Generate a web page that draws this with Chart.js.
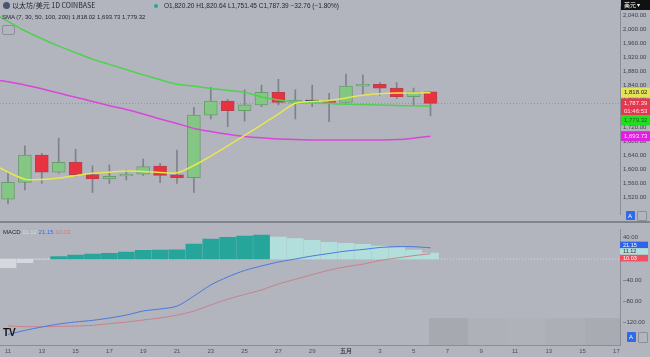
<!DOCTYPE html>
<html><head><meta charset="utf-8">
<script src="https://cdn.jsdelivr.net/npm/chart.js@4.4.1/dist/chart.umd.min.js"></script>
<style>
html,body{margin:0;padding:0;background:#b2b5be;width:650px;height:357px;overflow:hidden;}
#wrap{position:relative;width:650px;height:357px;font-family:"Liberation Sans","Noto Sans CJK SC",sans-serif;}
canvas{position:absolute;left:0;}
#c1{top:0;}
#c2{top:223px;}
#sep{position:absolute;left:0;top:221px;width:650px;height:2px;background:#80838b;}
.t{position:absolute;white-space:nowrap;color:#1e222d;line-height:1;}
.box{position:absolute;}
</style></head><body><div id="wrap">
<canvas id="c1" width="650" height="221"></canvas>
<div id="sep"></div>
<canvas id="c2" width="650" height="134"></canvas>

<div class="box" style="left:3px;top:2px;width:7px;height:7px;border-radius:50%;background:#4b5372;"></div>
<div class="t" style="left:12px;top:2px;font-size:7px;font-family:'Noto Sans CJK SC','Liberation Sans',sans-serif;">以太坊/美元 1D COINBASE</div>
<div class="box" style="left:154px;top:4px;width:4px;height:4px;border-radius:50%;background:#26a69a;"></div>
<div class="t" style="left:164px;top:3px;font-size:6.5px;">O1,820.20 H1,820.64 L1,751.45 C1,787.39 −32.76 (−1.80%)</div>
<div class="t" style="left:2px;top:14px;font-size:6px;">SMA (7, 30, 50, 100, 200) 1,818.02 1,693.73 1,779.32</div>
<div class="box" style="left:2px;top:25px;width:11px;height:8px;border:1px solid #8c8f97;border-radius:2px;"></div>
<div class="t" style="left:3px;top:229px;font-size:6px;">MACD <span style="color:#d3dbdf">11.12</span> <span style="color:#3a6ee0">21.15</span> <span style="color:#e0707c">10.03</span></div>

<div class="box" style="left:621px;top:0;width:29px;height:10px;background:#111;"></div>
<div class="t" style="left:624px;top:2px;font-size:6px;color:#fff;font-family:'Noto Sans CJK SC',sans-serif;">美元 ▾</div>
<div class="box" style="left:626px;top:211px;width:9px;height:9px;background:#2f6ae8;border-radius:1px;"></div>
<div class="t" style="left:628px;top:213px;font-size:6px;color:#fff;">A</div>
<div class="box" style="left:637px;top:211px;width:8px;height:8px;border:1px solid #8c8f97;border-radius:1px;"></div>
<div class="box" style="left:627px;top:332px;width:9px;height:10px;background:#2f6ae8;border-radius:1px;"></div>
<div class="t" style="left:629px;top:334px;font-size:6px;color:#fff;">A</div>
<div class="box" style="left:638px;top:332px;width:8px;height:9px;border:1px solid #8c8f97;border-radius:1px;"></div>
<div class="t" style="left:3px;top:328px;font-size:10px;font-weight:bold;color:#111;">TV</div>

<script>
// ---- data ----
const dates = ['4/11','4/12','4/13','4/14','4/15','4/16','4/17','4/18','4/19','4/20','4/21','4/22','4/23','4/24','4/25','4/26','4/27','4/28','4/29','4/30','5/1','5/2','5/3','5/4','5/5','5/6'];
const opens  = [1514,1562,1640,1591,1619,1584,1572,1580,1585,1608,1583,1575,1754,1794,1767,1783,1819,1790,1797,1795,1790,1837,1842,1831,1807,1820.20];
const highs  = [1589,1666,1645,1688,1657,1609,1612,1597,1628,1616,1654,1776,1833,1799,1826,1840,1856,1826,1840,1816,1871,1869,1847,1847,1831,1820.64];
const lows   = [1500,1540,1559,1588,1578,1533,1559,1569,1582,1561,1559,1533,1743,1721,1737,1778,1783,1743,1778,1735,1788,1813,1811,1802,1781,1751.45];
const closes = [1562,1640,1591,1619,1584,1572,1579,1585,1607,1582,1575,1754,1794,1767,1783,1819,1790,1797,1795,1790,1837,1842,1831,1807,1820.20,1787.39];

// SMA lines start one day earlier (4/10)
const smaDates = ['4/10'].concat(dates);
const smaYellow  = [1617,1591,1571,1570,1574,1581,1588,1591,1594,1593,1590,1589,1610,1637,1666,1696,1726,1757,1788,1793,1796,1803,1811,1815,1817,1817,1818.02];
const smaGreen   = [2049,2022,1995,1972,1951,1932,1914,1899,1884,1869,1855,1842,1837,1830,1825,1819,1806,1797,1791,1789,1787,1785,1784,1783,1781.5,1780.5,1779.32];
const smaMagenta = [1857,1849,1840,1829,1817,1805,1793,1781,1770,1757,1743,1730,1716,1707,1699,1693,1689,1686,1684,1683,1683,1683,1683,1683,1684,1688,1693.73];

const macdHist   = [-16.4,-7,-0.5,4.4,7.6,9.5,10.7,13.2,16.5,16.8,17.2,28.4,37.8,41,43.5,45.4,41.6,38.4,35.3,31.5,29.6,27.7,24.6,21.4,17,11.12];
const macdLine   = [-142.7,-135,-128.5,-123,-119,-116,-111.5,-106,-98.3,-94.5,-89,-70,-49,-34,-21.7,-13.2,-5.7,0,5.7,10.4,15,18,21.7,23.3,23.3,21.15];
const signalLine = [-126.3,-128,-128,-127.4,-126.6,-125.5,-122.2,-119.2,-115.3,-111.5,-106.2,-98.4,-86.8,-76,-67,-58.6,-47.3,-38.4,-29.6,-21.1,-14.6,-9.7,-2.9,1.9,6.3,10.03];

const xTickDays   = [0,2,4,6,8,10,12,14,16,18,20,22,24,26,28,30,32,34,36];
const xTickLabels = ['11','13','15','17','19','21','23','25','27','29','五月','3','5','7','9','11','13','15','17'];
const priceTicks  = [2040,2000,1960,1920,1880,1840,1800,1760,1720,1680,1640,1600,1560,1520];
const macdTicks   = [40,0,-40,-80,-120];

// ---- helpers ----
const FAM = '"Liberation Sans","Noto Sans CJK SC",sans-serif';
const fmt = v => {
  const s = Math.abs(v).toLocaleString('en-US',{minimumFractionDigits:2,maximumFractionDigits:2});
  return (v < 0 ? '\u2212' : '') + s;
};
const X_MIN = -0.473, X_MAX = 36.213;
const last = closes.length - 1;
const up = i => closes[i] >= opens[i];
const pts = (arr, start) => arr.map((v,i)=>({x:i+start, y:v}));

const GREEN_FILL = '#84c784', GREEN_EDGE = '#6a9d6e';
const RED_FILL = '#e8323f', RED_EDGE = '#b9404b';

const tags1 = {
  id:'tags1',
  afterDraw(chart){
    const ctx = chart.ctx, ys = chart.scales.y, left = chart.chartArea.right + 1;
    const tags = [
      {v: smaYellow[smaYellow.length-1], bg:'#e3e35a', fg:'#222', lines:[fmt(smaYellow[smaYellow.length-1])]},
      {v: closes[last], bg:'#e5384e', fg:'#f6e4e6', lines:[fmt(closes[last]), '01:46:53']},
      {v: smaGreen[smaGreen.length-1], bg:'#1fe01f', fg:'#2d5a2d', lines:[fmt(smaGreen[smaGreen.length-1])]},
      {v: smaMagenta[smaMagenta.length-1], bg:'#e01fe0', fg:'#f8e2f8', lines:[fmt(smaMagenta[smaMagenta.length-1])]}
    ];
    let prev = -1e9;
    ctx.save();
    ctx.font = '6px ' + FAM; ctx.textBaseline = 'middle'; ctx.textAlign = 'left';
    for (const t of tags) {
      const h = t.lines.length === 1 ? 10 : 17;
      let top = ys.getPixelForValue(t.v) - 5;
      if (top < prev) top = prev;
      ctx.fillStyle = t.bg; ctx.fillRect(left, top, 650 - left, h);
      ctx.fillStyle = t.fg;
      t.lines.forEach((s,k)=>ctx.fillText(s, left + 3, top + 5 + k*7.5));
      prev = top + h;
    }
    ctx.restore();
  }
};

const tags2 = {
  id:'tags2',
  afterDraw(chart){
    const ctx = chart.ctx, ys = chart.scales.y, left = chart.chartArea.right;
    const tags = [
      {v: macdLine[last], bg:'#2f64e8', fg:'#fff'},
      {v: macdHist[last], bg:'#b2dfdb', fg:'#333'},
      {v: signalLine[last], bg:'#ef4f5f', fg:'#fff'}
    ];
    const h = 6.6;
    const mean = tags.reduce((a,t)=>a+ys.getPixelForValue(t.v),0)/tags.length;
    let top = mean - h*tags.length/2;
    ctx.save();
    ctx.font = '5.5px ' + FAM; ctx.textBaseline = 'middle'; ctx.textAlign = 'left';
    for (const t of tags) {
      ctx.fillStyle = t.bg; ctx.fillRect(left, top, 28, h);
      ctx.fillStyle = t.fg; ctx.fillText(fmt(t.v), left + 3, top + h/2 + 0.3);
      top += h;
    }
    const a = chart.chartArea;
    const strips = [[429,468,'#a7a9b1'],[468,507,'#afb1b9'],[507,545,'#b0b2ba'],[545,585,'#adafb7'],[585,620,'#a9abb3']];
    for (const [x0,x1,c] of strips){ ctx.fillStyle = c; ctx.fillRect(x0, a.bottom - 27, x1-x0, 27); }
    ctx.restore();
  }
};

Chart.defaults.font.family = FAM;
Chart.defaults.animation = false;

const ch1 = new Chart(document.getElementById('c1'), {
  type:'bar',
  data:{datasets:[
    {type:'line', label:'SMA 7', data:pts(smaYellow,-1), borderColor:'#e6e650', borderWidth:1.5, pointRadius:0, tension:0.3, order:0},
    {type:'line', label:'SMA 30', data:pts(smaGreen,-1), borderColor:'#4fd14f', borderWidth:1.5, pointRadius:0, tension:0.3, order:0},
    {type:'line', label:'SMA 50', data:pts(smaMagenta,-1), borderColor:'#d946d9', borderWidth:1.5, pointRadius:0, tension:0.3, order:0},
    {type:'bar', label:'body', grouped:false, barThickness:13,
      data: opens.map((o,i)=>({x:i, y:[o, closes[i]]})),
      backgroundColor: opens.map((o,i)=> Math.abs(closes[i]-o) < 2.5 ? '#3a3a3a' : (up(i)?GREEN_FILL:RED_FILL)),
      borderColor: opens.map((o,i)=> Math.abs(closes[i]-o) < 2.5 ? '#3a3a3a' : (up(i)?GREEN_EDGE:RED_EDGE)),
      borderWidth:1, borderSkipped:false, order:2},
    {type:'bar', label:'wick', grouped:false, barThickness:1,
      data: lows.map((l,i)=>({x:i, y:[l, highs[i]]})),
      backgroundColor:'#7f828a', order:3},
    {type:'line', label:'last', data:[{x:X_MIN,y:closes[last]},{x:X_MAX,y:closes[last]}],
      borderColor:'rgba(160,130,140,0.8)', borderWidth:1, borderDash:[1,2], pointRadius:0, order:4}
  ]},
  options:{
    responsive:false, animation:false,
    layout:{padding:0, autoPadding:false},
    plugins:{legend:{display:false}, tooltip:{enabled:false}},
    scales:{
      x:{type:'linear', min:X_MIN, max:X_MAX, offset:false, display:false},
      y:{position:'right', min:1451.43, max:2082.857,
         afterBuildTicks:s=>{s.ticks = priceTicks.map(v=>({value:v}));},
         afterFit:s=>{s.width = 30;},
         ticks:{font:{size:6}, color:'#3f424c', padding:3, callback:v=>fmt(v)},
         grid:{display:false, drawTicks:false, tickLength:0}, border:{display:true, color:'#8b8e96'}}
    }
  },
  plugins:[tags1]
});

const ch2 = new Chart(document.getElementById('c2'), {
  type:'bar',
  data:{datasets:[
    {type:'line', label:'MACD', data:pts(macdLine,0), borderColor:'#4a78e0', borderWidth:1, pointRadius:0, tension:0.3, order:0},
    {type:'line', label:'Signal', data:pts(signalLine,0), borderColor:'#c9808a', borderWidth:1, pointRadius:0, tension:0.3, order:0},
    {type:'bar', label:'Histogram', grouped:false, barThickness:16,
      data: macdHist.map((v,i)=>({x:i, y:v})),
      backgroundColor: macdHist.map((v,i)=>{
        const p = i>0 ? macdHist[i-1] : v;
        if (v >= 0) return v >= p ? '#26a69a' : '#b2dfdb';
        return v >= p ? '#d6d8e0' : '#ef5350';
      }), order:2},
    {type:'line', label:'zero', data:[{x:X_MIN,y:0},{x:X_MAX,y:0}], borderColor:'rgba(215,217,224,0.9)', borderWidth:1, borderDash:[1,2], pointRadius:0, order:3}
  ]},
  options:{
    responsive:false, animation:false,
    layout:{padding:0, autoPadding:false},
    plugins:{legend:{display:false}, tooltip:{enabled:false}},
    scales:{
      x:{type:'linear', min:X_MIN, max:X_MAX, offset:false,
         afterBuildTicks:s=>{s.ticks = xTickDays.map(v=>({value:v}));},
         afterFit:s=>{s.height = 12;},
         ticks:{autoSkip:false, maxRotation:0, minRotation:0, padding:3, color:'#4b4e58',
           font:c=>({size:6, weight:(c.tick && c.tick.label==='五月')?'bold':'normal'}),
           callback:(v,i)=>xTickLabels[i]},
         grid:{display:false, drawTicks:false, tickLength:0}, border:{display:true, color:'#8b8e96'}},
      y:{position:'right', min:-162.57, max:68.05,
         afterBuildTicks:s=>{s.ticks = macdTicks.map(v=>({value:v}));},
         afterFit:s=>{s.width = 30;},
         ticks:{font:{size:6}, color:'#3f424c', padding:3, callback:v=>fmt(v)},
         grid:{display:false, drawTicks:false, tickLength:0}, border:{display:true, color:'#8b8e96'}}
    }
  },
  plugins:[tags2]
});

// Match the value-to-pixel mapping of the reference (value at a given pixel, pixels per unit)
function fitY(chart, pxRef, valRef, pxPerUnit){
  const a = chart.chartArea, y = chart.options.scales.y;
  y.max = valRef + (pxRef - a.top) / pxPerUnit;
  y.min = valRef - (a.bottom - pxRef) / pxPerUnit;
  chart.update();
}
fitY(ch1, 29, 2000, 0.35);
fitY(ch2, 36, 0, 0.529);
</script>
</div></body></html>
